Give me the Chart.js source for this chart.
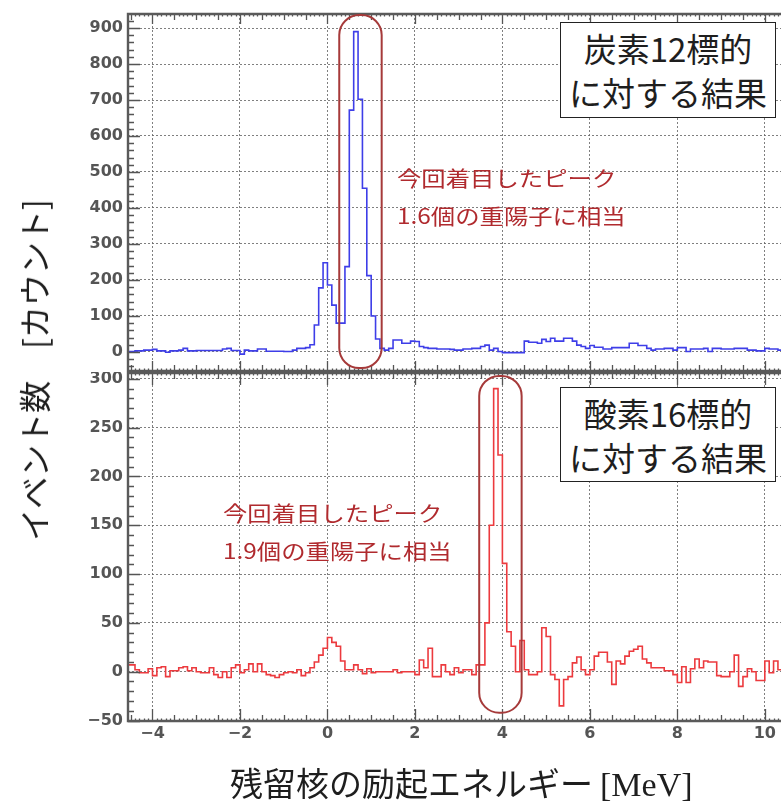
<!DOCTYPE html>
<html lang="ja">
<head>
<meta charset="utf-8">
<script src="https://cdn.jsdelivr.net/npm/chart.js@4/dist/chart.umd.min.js"></script>
<style>
  html, body { margin: 0; padding: 0; background: #fff; }
  body { width: 781px; height: 803px; position: relative; overflow: hidden; }
  .wrap { position: absolute; left: 0; width: 781px; }
  .tbox { position: absolute; box-sizing: border-box; border: 1.5px solid #222; background: #fff;
          font-family: "Noto Sans CJK JP", sans-serif; font-size: 33px; line-height: 44px; color: #1e1e1e;
          text-align: center; display: flex; flex-direction: column; justify-content: center; }
  .ann { position: absolute; font-family: "Noto Sans CJK JP", sans-serif; font-size: 21px; line-height: 38px;
         color: #b02a2e; white-space: nowrap; transform: scaleX(1.16); transform-origin: left top; }
  .ytitle { position: absolute; left: 33px; top: 370px; transform: translate(-50%, -50%) rotate(-90deg);
            font-family: "Noto Sans CJK JP", sans-serif; font-size: 32px; color: #1e1e1e; white-space: nowrap; }
  .xtitle { position: absolute; left: 230px; top: 762px; line-height: 40px; white-space: nowrap; color: #1e1e1e; }
  .xtitle .jp { font-family: "Noto Sans CJK JP", sans-serif; font-size: 33px; }
  .xtitle .unit { font-family: "Liberation Serif", serif; font-size: 34px; margin-left: 3px; }
</style>
</head>
<body>
<div class="wrap" style="top:0;height:372px"><canvas id="cA" width="781" height="372"></canvas></div>
<div class="wrap" style="top:372px;height:431px"><canvas id="cB" width="781" height="431"></canvas></div>

<div class="tbox" style="left:560px;top:22px;width:216px;height:96px">炭素12標的<br>に対する結果</div>
<div class="tbox" style="left:560px;top:387px;width:216px;height:95px">酸素16標的<br>に対する結果</div>

<div class="ann" style="left:397px;top:158px">今回着目したピーク<br>1.6個の重陽子に相当</div>
<div class="ann" style="left:223px;top:493px">今回着目したピーク<br>1.9個の重陽子に相当</div>

<div class="ytitle">イベント数　[カウント]</div>
<div class="xtitle"><span class="jp">残留核の励起エネルギー</span> <span class="unit">[MeV]</span></div>

<script>
// ---------------- data ----------------
// histogram bins: lower edge of first bin and bin width (MeV)
const BIN_LOW = -4.6;
const BIN_WIDTH = 0.1;

// Carbon-12 target counts per bin (from -4.6 MeV upward)
const carbonCounts = [
  1, 1, 3, 3, 5, 5, 7, 3, 3, -1,
  3, 3, 5, 10, 3, 3, 4, 4, 4, 4,
  4, 4, 8, 10, 4, 4, -6, 5, 3, 3,
  8, 8, 2, 2, 2, 2, 1, 1, 5, 10,
  10, 12, 20, 75, 178, 248, 186, 130, 80, 80,
  237, 672, 890, 702, 455, 212, 100, 36, 10, 5,
  10, 33, 33, 24, 24, 30, 29, 15, 12, 10,
  10, 8, 8, 8, 7, 5, 5, 8, 8, 10,
  10, 15, 19, 5, 10, 1, -2, -2, -2, -2,
  -2, 30, 27, 27, 24, 35, 29, 38, 30, 30,
  38, 38, 30, 19, 15, 10, 18, 13, 13, 8,
  8, 12, 12, 12, 12, 24, 24, 18, 18, 10,
  5, 8, 8, 10, 10, 5, 12, 12, 1, 8,
  8, 8, 10, 1, 10, 10, 8, 8, 8, 10,
  10, 10, 5, 5, 3, 3, 10, 8, 8, 5
];

// Oxygen-16 target counts per bin (from -4.6 MeV upward)
const oxygenCounts = [
  7, 7, 2, -1, -1, 3, -4, 4, 5, -5,
  1, 1, 4, 5, 1, 4, 0, -1, -1, 4,
  -3, -6, 0, -6, 4, 7, -1, 2, 8, 0,
  8, 0, -3, -4, -6, -3, -1, 0, -1, 2,
  -4, -1, 4, 10, 17, 24, 35, 30, 26, 11,
  2, 2, 7, 2, -2, 3, -1, 0, 0, 0,
  0, 2, -1, 0, 0, 0, -3, 12, 4, 24,
  -5, -5, 7, 0, -3, 4, -1, 2, 2, -3,
  7, 7, 50, 150, 290, 222, 111, 41, 26, 0,
  32, 2, -3, -3, 0, 45, 36, -3, -8, -35,
  -8, -5, 9, 15, 2, -3, 2, 16, 20, 20,
  10, -13, 11, 8, 16, 21, 23, 26, 13, 9,
  4, 4, 4, 1, 1, -3, -11, 5, -11, 3,
  13, 4, 11, 10, 10, -4, -5, -5, 0, 17,
  -15, -5, 3, 0, -9, -9, 11, -1, 11, 2
];

// axis tick labels
const xTicks = [-4, -2, 0, 2, 4, 6, 8, 10];
const yTicksCarbon = [0, 100, 200, 300, 400, 500, 600, 700, 800, 900];
const yTicksOxygen = [-50, 0, 50, 100, 150, 200, 250, 300];

// ---------------- layout / style ----------------
const X_MIN = -4.56, X_MAX = 10.37;
const TICK_FONT = { family: 'DejaVu Sans', size: 16, weight: 'bold' };
const TICK_COLOR = '#555';
const GRID_COLOR = 'rgba(105,105,105,0.85)';
const fmt = v => String(v).replace('-', '\u2212');

function histPoints(vals) {
  const pts = vals.map((v, i) => ({ x: BIN_LOW + i * BIN_WIDTH, y: v }));
  pts.push({ x: BIN_LOW + vals.length * BIN_WIDTH, y: vals[vals.length - 1] });
  return pts;
}

function yScale(min, max, ticksArr) {
  return {
    type: 'linear', min, max,
    afterBuildTicks: s => { s.ticks = ticksArr.map(v => ({ value: v })); },
    afterFit: s => { s.width = 128; s.paddingTop = 0; s.paddingBottom = 0; },
    grid: { color: GRID_COLOR, lineWidth: 1, drawTicks: false },
    border: { display: false, dash: [2, 2] },
    ticks: { padding: 5, color: TICK_COLOR, font: TICK_FONT, autoSkip: false, callback: fmt }
  };
}
function xScale(showLabels, h) {
  return {
    type: 'linear', min: X_MIN, max: X_MAX,
    afterBuildTicks: s => { s.ticks = xTicks.map(v => ({ value: v })); },
    afterFit: s => { s.height = h; s.paddingLeft = 0; s.paddingRight = 0; },
    grid: { color: GRID_COLOR, lineWidth: 1, drawTicks: false },
    border: { display: false, dash: [2, 2] },
    ticks: { display: showLabels, padding: 3, color: TICK_COLOR, font: TICK_FONT,
             autoSkip: false, maxRotation: 0, callback: fmt }
  };
}

// inward ROOT-style ticks + frame + highlighted peak region
const frameTicks = {
  id: 'frameTicks',
  afterDraw(chart, args, o) {
    const { ctx, chartArea: a, scales: { x, y } } = chart;
    ctx.save();
    ctx.strokeStyle = '#555';
    ctx.lineWidth = 1.3;
    ctx.beginPath();
    const y0 = Math.ceil(y.min / o.yMinor) * o.yMinor;
    for (let v = y0; v <= y.max + 1e-9; v += o.yMinor) {
      const p = Math.round(y.getPixelForValue(v)) + 0.5;
      const major = Math.abs(v / o.yMajor - Math.round(v / o.yMajor)) < 1e-6;
      const len = major ? 12 : 6;
      ctx.moveTo(a.left, p); ctx.lineTo(a.left + len, p);
    }
    for (let k = Math.ceil(x.min * 10); k <= Math.floor(x.max * 10); k++) {
      const p = Math.round(x.getPixelForValue(k / 10)) + 0.5;
      const len = (k % 20 === 0) ? o.xMajorLen : (k % 5 === 0 ? 6 : 2.5);
      ctx.moveTo(p, a.bottom); ctx.lineTo(p, a.bottom - len);
      ctx.moveTo(p, a.top); ctx.lineTo(p, a.top + len);
    }
    ctx.stroke();
    ctx.lineWidth = 2.4;
    ctx.strokeStyle = '#5a5a5a';
    ctx.beginPath();
    ctx.moveTo(a.right, a.top); ctx.lineTo(a.left, a.top); ctx.lineTo(a.left, a.bottom); ctx.lineTo(a.right, a.bottom);
    ctx.stroke();
    if (o.peak) {
      const pk = o.peak;
      const l = x.getPixelForValue(pk.x0), r = x.getPixelForValue(pk.x1);
      const t = y.getPixelForValue(pk.y1), b = y.getPixelForValue(pk.y0);
      ctx.strokeStyle = '#a63a3a';
      ctx.lineWidth = 2;
      ctx.beginPath();
      ctx.roundRect(l, t, r - l, b - t, 20);
      ctx.stroke();
    }
    ctx.restore();
  }
};

function makeChart(id, vals, color, yMin, yMax, yTicksArr, opts) {
  return new Chart(document.getElementById(id), {
    type: 'line',
    data: { datasets: [{
      data: histPoints(vals), stepped: 'before', borderColor: color, borderWidth: 1.6,
      pointRadius: 0, fill: false, tension: 0
    }] },
    options: {
      responsive: false, animation: false, devicePixelRatio: 1,
      layout: { padding: opts.padding },
      plugins: { legend: { display: false }, tooltip: { enabled: false }, frameTicks: opts.frame },
      scales: { x: xScale(opts.xLabels, opts.xHeight), y: yScale(yMin, yMax, yTicksArr) }
    },
    plugins: [frameTicks]
  });
}

makeChart('cA', carbonCounts, 'rgb(62,62,232)', -53, 939, yTicksCarbon, {
  padding: { top: 14, bottom: 1, left: 0, right: 0 }, xLabels: false, xHeight: 0,
  frame: { yMinor: 20, yMajor: 100, xMajorLen: 10, peak: { x0: 0.27, x1: 1.24, y0: -45, y1: 936 } }
});
makeChart('cB', oxygenCounts, 'rgb(236,58,62)', -50.5, 306, yTicksOxygen, {
  padding: { top: 1, bottom: 0, left: 0, right: 0 }, xLabels: true, xHeight: 82,
  frame: { yMinor: 10, yMajor: 50, xMajorLen: 12, peak: { x0: 3.47, x1: 4.44, y0: -42, y1: 303 } }
});
</script>
</body>
</html>
